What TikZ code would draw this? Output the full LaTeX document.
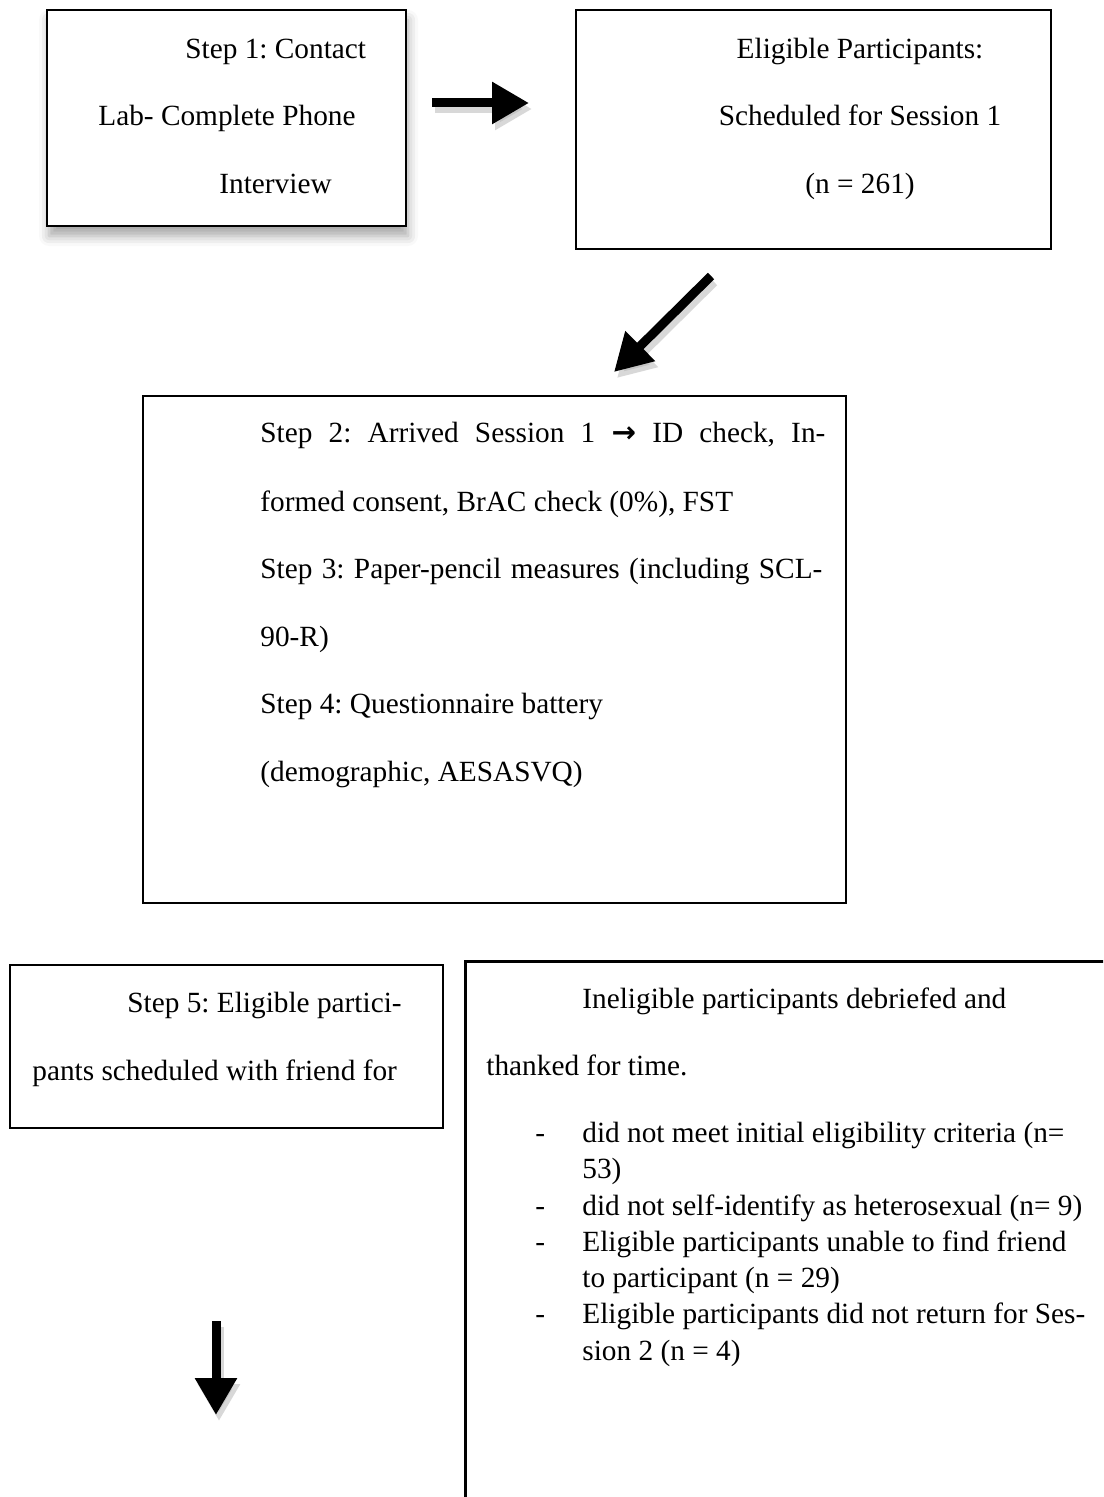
\documentclass[tikz,border=0pt]{standalone}
\usepackage{fontspec}
\setmainfont{Liberation Serif}
\newfontfamily\arrowfont{DejaVu Sans}
\frenchspacing
\usetikzlibrary{arrows.meta,fit,shadows.blur}

\tikzset{
  box/.style={draw=black, line width=1.2pt, inner sep=0pt, fill=white},
  txt/.style={anchor=base west, inner sep=0pt, font=\fontsize{14.65}{18}\selectfont},
  ctxt/.style={txt, anchor=base},
  bigarrow/.style={draw=black, line width=4.5pt, -{Triangle[length=18.5pt,width=20pt]}},
  arrowshadow/.style={bigarrow, draw=black!30, opacity=0.5},
}

\begin{document}
\begin{tikzpicture}[x=0.5pt,y=-0.5pt]
    \useasboundingbox (0,0) rectangle (1103,1497);
    \clip (0,0) rectangle (1103,1497);
      % boxes
      \node[box, line width=1.4pt, blur shadow={shadow xshift=1pt, shadow yshift=-5pt, shadow blur radius=5pt, shadow opacity=35}, fit={(47,10) (406,226)}] (contact) {};
      \node[box, fit={(576,10) (1051,249)}] (sched) {};
      \node[box, line width=1.1pt, fit={(143,396) (846,903)}] (session1) {};
      \node[box, line width=1pt, fit={(10,965) (443,1128)}] (step5) {};
      \node[box, line width=1.5pt, fit={(465,961) (1130,1530)}] (inelig) {};
      % arrows
      \coordinate (a1s) at (432,103); \coordinate (a1e) at (529,103);
      \coordinate (a2s) at (711,276); \coordinate (a2e) at (614,372);
      \coordinate (a3s) at (216,1321); \coordinate (a3e) at (216,1415);
      \draw[arrowshadow] ([shift={(3,6)}]a1s) -- ([shift={(3,6)}]a1e);
      \draw[arrowshadow] ([shift={(3,6)}]a2s) -- ([shift={(3,6)}]a2e);
      \draw[arrowshadow] ([shift={(3,6)}]a3s) -- ([shift={(3,6)}]a3e);
      \draw[bigarrow] (a1s) -- (a1e);
      \draw[bigarrow] (a2s) -- (a2e);
      \draw[bigarrow] (a3s) -- (a3e);
      % step 1
      \node[txt] (c1) at (185,59) {Step 1: Contact};
      \node[txt] (c2) at (98,126) {Lab- Complete Phone};
      \node[txt] (c3) at (219,194) {Interview};
      % session 1
      \node[ctxt] (s1) at (860,59) {Eligible Participants:};
      \node[ctxt] (s2) at (860,126) {Scheduled for Session 1};
      \node[ctxt] (s3) at (860,194) {(n = 261)};
      % steps 2-4
      \node[txt] (p1) at (260,443) {\makebox[282.5pt][s]{Step 2: Arrived Session 1 {\arrowfont\bfseries →} ID check, In-}};
      \node[txt] (p2) at (260,511) {formed consent, BrAC check (0\%), FST};
      \node[txt] (p3) at (260,578) {\makebox[281pt][s]{Step 3: Paper-pencil measures (including SCL-}};
      \node[txt] (p4) at (260,646) {90-R)};
      \node[txt] (p5) at (260,713) {Step 4: Questionnaire battery};
      \node[txt] (p6) at (260,781) {(demographic, AESASVQ)};
      % step 5
      \node[txt] (f1) at (127,1012) {Step 5: Eligible partici-};
      \node[txt] (f2) at (32,1080) {pants scheduled with friend for};
      % ineligible
      \node[txt] (i1) at (582,1008) {Ineligible participants debriefed and};
      \node[txt] (i2) at (486,1075) {thanked for time.};
      \node[txt] (d1) at (535,1142) {-};
      \node[txt] (b1) at (582,1142) {did not meet initial eligibility criteria (n=};
      \node[txt] (b2) at (582,1178) {53)};
      \node[txt] (d2) at (535,1215) {-};
      \node[txt] (b3) at (582,1215) {did not self-identify as heterosexual (n= 9)};
      \node[txt] (d3) at (535,1251) {-};
      \node[txt] (b4) at (582,1251) {Eligible participants unable to find friend};
      \node[txt] (b5) at (582,1287) {to participant (n = 29)};
      \node[txt] (d4) at (535,1323) {-};
      \node[txt] (b6) at (582,1323) {Eligible participants did not return for Ses-};
      \node[txt] (b7) at (582,1360) {sion 2 (n = 4)};
\end{tikzpicture}
\end{document}
